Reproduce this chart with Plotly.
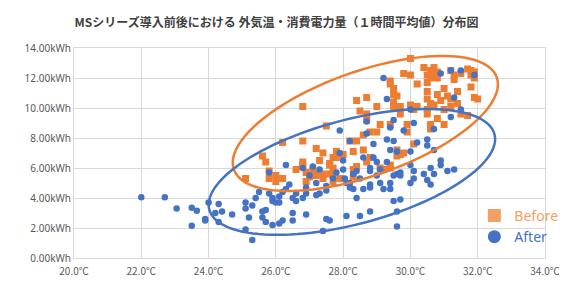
import numpy as np
import plotly.graph_objects as go

title_text = "MSシリーズ導入前後における 外気温・消費電力量（１時間平均値）分布図"
series_names = ["Before", "After"]

before_temp = [30.0, 29.8, 30.0, 30.4, 30.6, 30.7, 30.8, 30.7, 30.6, 30.5, 30.8, 31.2, 31.3, 31.3, 31.7, 31.8, 31.9, 31.8,
               29.4, 29.4, 29.5, 29.5, 29.6, 30.2, 30.5, 30.5, 30.8, 31.0, 31.1, 31.2, 31.4, 31.8, 31.9, 32.0,
               28.7, 28.4, 29.0, 29.5, 29.5, 29.7, 30.0, 30.2, 30.5, 30.6, 30.6, 30.7, 31.2, 31.4, 31.5, 31.7, 31.0,
               26.8, 28.5, 28.7, 28.7, 29.1, 29.4, 29.7, 29.9, 30.1, 30.5, 30.5, 30.8, 31.0, 30.6, 30.6,
               27.5, 28.8, 29.0, 28.6, 28.2, 28.4, 26.8, 26.2, 29.9, 30.1, 29.8, 29.6, 29.7, 28.6, 28.3, 27.8,
               27.7, 27.4, 27.2, 27.3, 27.8, 28.0, 27.6, 27.7, 26.8, 26.8, 26.6, 25.8, 26.0, 25.8, 26.0, 26.2,
               25.1, 25.6, 25.7, 26.9, 27.1, 27.0, 26.9, 27.2, 27.4, 27.7, 27.7, 27.9, 28.3, 28.4, 28.3, 28.7,
               28.8, 29.1, 29.2, 29.4, 29.6, 29.4, 26.8, 27.4, 27.6, 27.6, 27.2, 30.9, 31.5, 31.9]
before_kwh = [13.3, 12.3, 12.2, 12.7, 12.5, 12.7, 12.4, 12.2, 12.0, 12.2, 12.0, 12.5, 12.2, 11.9, 12.6, 12.5, 12.4, 12.2,
              11.8, 11.6, 11.3, 10.9, 10.8, 11.6, 11.7, 11.1, 10.9, 11.3, 10.8, 10.6, 11.1, 11.4, 10.7, 10.6,
              10.7, 10.5, 10.1, 10.4, 10.1, 10.1, 10.2, 10.1, 10.6, 10.3, 10.1, 10.2, 10.1, 10.3, 9.6, 9.5, 9.9,
              10.1, 9.8, 9.6, 9.2, 8.9, 8.9, 9.6, 8.9, 9.9, 9.9, 9.6, 9.3, 8.9, 8.9, 8.6,
              8.8, 8.4, 8.4, 8.2, 7.8, 7.8, 7.8, 7.7, 8.4, 7.6, 7.0, 7.2, 6.9, 7.2, 7.1, 7.1,
              6.7, 7.0, 7.3, 6.5, 6.7, 6.9, 6.3, 6.0, 6.4, 6.1, 5.9, 5.8, 5.5, 5.3, 5.1, 5.3,
              5.3, 6.8, 6.4, 5.7, 5.9, 5.4, 5.1, 5.5, 5.3, 5.5, 5.1, 5.3, 5.9, 6.1, 5.4, 6.4,
              6.7, 6.0, 5.9, 6.0, 6.8, 6.2, 6.2, 5.6, 6.2, 5.6, 5.6, 10.5, 12.3, 12.0]

after_temp = [30.9, 31.2, 31.5, 31.9, 29.2, 29.3, 31.3, 30.0, 29.5, 30.1, 29.4, 27.9, 28.2, 29.3, 29.5, 30.5, 30.5, 30.7,
              29.4, 29.6, 28.9, 30.9, 30.9, 31.3, 31.1, 30.0, 30.1, 30.0, 30.1, 30.6, 30.5, 30.6, 29.6, 29.7, 29.5,
              29.4, 29.4, 29.2, 29.1, 29.0, 28.8, 28.8, 28.6, 28.5, 28.4, 28.3, 28.2, 28.3, 28.1, 28.0, 28.0, 27.8,
              27.7, 27.5, 27.5, 27.2, 27.1, 27.3, 27.3, 27.2, 27.0, 26.9, 26.9, 26.8, 26.6, 26.5, 26.6, 26.3, 26.4,
              26.3, 26.2, 26.1, 25.9, 25.9, 26.0, 26.1, 25.8, 25.5, 25.4, 25.6, 25.6, 25.7, 25.1, 25.1, 25.3, 25.2,
              25.1, 25.3, 25.9, 26.1, 26.2, 26.5, 26.5, 26.9, 27.4, 27.5, 27.6, 28.1, 28.5, 28.8, 28.4, 29.6, 29.6,
              29.5, 29.7, 24.3, 24.4, 24.2, 24.7, 24.0, 23.9, 24.3, 22.0, 22.7, 23.05, 23.5, 23.65, 23.5, 23.9,
              28.7, 28.7, 29.8, 27.9, 28.6, 28.9, 29.0, 29.3, 28.8, 29.1, 28.05, 28.2, 28.8, 29.7, 31.2, 31.5,
              30.7, 30.2, 30.0, 30.7, 30.4, 26.8, 25.8, 25.7]
after_kwh = [12.3, 12.5, 12.5, 12.2, 12.0, 10.6, 10.7, 9.9, 9.2, 9.0, 8.7, 8.5, 7.8, 7.9, 7.8, 7.9, 7.5, 7.2,
             7.2, 7.1, 7.6, 6.5, 6.2, 5.9, 5.8, 6.2, 5.8, 5.0, 5.3, 6.0, 5.2, 4.9, 5.6, 5.7, 5.5,
             5.0, 4.6, 4.6, 5.0, 5.5, 4.9, 4.7, 4.6, 5.3, 5.8, 5.6, 5.0, 4.6, 5.0, 5.9, 6.5, 5.7,
             5.3, 4.8, 4.5, 5.0, 6.1, 5.9, 4.3, 4.2, 5.5, 4.7, 4.3, 4.0, 4.3, 4.0, 3.8, 6.2, 4.9,
             4.6, 4.4, 4.1, 3.8, 4.0, 3.7, 3.7, 4.3, 4.4, 4.0, 3.1, 2.7, 2.4, 3.7, 3.3, 3.5, 2.7,
             1.9, 1.2, 2.2, 2.3, 2.5, 3.0, 2.5, 2.9, 1.8, 2.6, 2.5, 2.8, 2.8, 3.1, 4.0, 3.1, 2.1,
             3.8, 3.9, 3.6, 3.1, 3.0, 2.9, 3.7, 2.6, 2.4, 4.05, 4.05, 3.3, 3.35, 3.15, 2.15, 2.5,
             9.1, 8.3, 8.5, 7.0, 6.7, 6.7, 6.4, 6.4, 5.8, 5.9, 5.3, 4.7, 6.0, 5.5, 9.4, 9.9,
             8.6, 7.7, 7.1, 5.6, 5.6, 6.0, 5.7, 3.2]

x_range = [20, 34]
y_range = [0, 14]

ORANGE = "#ED7D31"
BLUE = "#4472C4"
ORANGE_LEG = "#F4A064"
GRID = "#D9D9D9"
TICK = "#595959"

W, H = 567, 282
M = dict(l=66, r=20, t=40, b=24)
plot_w = W - M["l"] - M["r"]
plot_h = H - M["t"] - M["b"]
sx = plot_w / (x_range[1] - x_range[0])  # px per degree
sy = plot_h / (y_range[1] - y_range[0])  # px per kWh


def ellipse_path(cx, cy, a_px, b_px, ang_deg, n=120):
    t = np.linspace(0, 2 * np.pi, n)
    th = np.radians(ang_deg)
    dx = a_px * np.cos(th) * np.cos(t) - b_px * np.sin(th) * np.sin(t)
    dy = a_px * np.sin(th) * np.cos(t) + b_px * np.cos(th) * np.sin(t)
    xs = cx + dx / sx
    ys = cy + dy / sy
    p = "M " + " L ".join(f"{x:.4f},{y:.4f}" for x, y in zip(xs, ys)) + " Z"
    return p


fig = go.Figure()
fig.add_trace(go.Scatter(x=before_temp, y=before_kwh, mode="markers", showlegend=False,
                         marker=dict(symbol="square", size=7, color=ORANGE)))
fig.add_trace(go.Scatter(x=after_temp, y=after_kwh, mode="markers", showlegend=False,
                         marker=dict(symbol="circle", size=6.5, color=BLUE)))
# legend entries
fig.add_trace(go.Scatter(x=[None], y=[None], mode="markers",
                         name=f"<span style='color:{ORANGE_LEG}'>{series_names[0]}</span>",
                         marker=dict(symbol="square", size=13, color=ORANGE_LEG)))
fig.add_trace(go.Scatter(x=[None], y=[None], mode="markers",
                         name=f"<span style='color:{BLUE}'>{series_names[1]}</span>",
                         marker=dict(symbol="circle", size=13, color=BLUE)))

fig.add_shape(type="path", xref="x", yref="y",
              path=ellipse_path(28.66, 8.97, 142.5, 54.2, 19.7),
              line=dict(color=ORANGE, width=2.5))
fig.add_shape(type="path", xref="x", yref="y",
              path=ellipse_path(28.26, 5.74, 150.8, 54.1, 15.1),
              line=dict(color=BLUE, width=2.5))

fig.update_layout(
    width=W, height=H, margin=M,
    paper_bgcolor="white", plot_bgcolor="white",
    title=dict(text=f"<b>{title_text}</b>", x=268.5 / W, xref="container", xanchor="center",
               y=1 - 15 / H, yref="container", yanchor="middle",
               font=dict(family="Noto Sans CJK JP", size=12, color="#404040")),
    font=dict(family="Noto Sans", color=TICK),
    legend=dict(x=0.85, y=0.277, xanchor="left", yanchor="top", bgcolor="rgba(0,0,0,0)",
                font=dict(family="Noto Sans", size=14), itemsizing="trace", tracegroupgap=0),
    xaxis=dict(range=x_range, dtick=2, tick0=20, tickformat=".1f", ticksuffix="℃",
               showgrid=True, gridcolor=GRID, gridwidth=1, zeroline=False,
               showline=True, linecolor=GRID, mirror=True, ticks="", ticklabelstandoff=4,
               tickfont=dict(family="Noto Sans CJK JP", size=10, color=TICK)),
    yaxis=dict(range=y_range, dtick=2, tick0=0, tickformat=".2f", ticksuffix="kWh",
               showgrid=True, gridcolor=GRID, gridwidth=1, zeroline=False,
               showline=True, linecolor=GRID, mirror=True, ticks="",
               tickfont=dict(family="Noto Sans", size=10, color=TICK)),
)

fig.write_html("out.html")
